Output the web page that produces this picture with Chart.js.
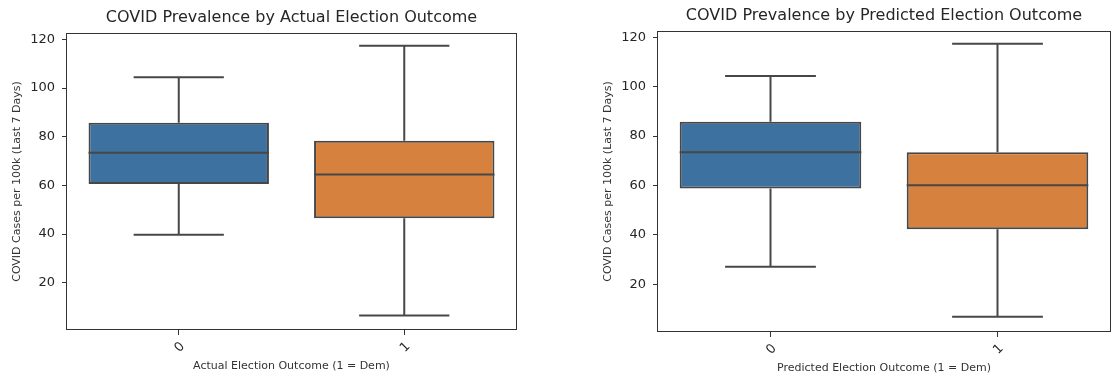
<!DOCTYPE html>
<html>
<head>
<meta charset="utf-8">
<script src="https://cdn.jsdelivr.net/npm/chart.js@4"></script>
<style>
  body { margin: 0; background: #fff; width: 1112px; height: 375px; overflow: hidden; position: relative; }
  .box { position: absolute; top: 0; height: 375px; }
</style>
</head>
<body>
<div class="box" style="left:0;width:540px"><canvas id="actualChart"></canvas></div>
<div class="box" style="left:591px;width:521px"><canvas id="predictedChart"></canvas></div>
<script>
const categories = ['0', '1'];
const yTicks = [20, 40, 60, 80, 100, 120];

// box stats per outcome: [group 0, group 1]
const actualMin = [39.7, 6.6];
const actualQ1 = [60.6, 46.5];
const actualMedian = [73.4, 64.5];
const actualQ3 = [85.7, 78.3];
const actualMax = [104.4, 117.4];

const predictedMin = [27.0, 6.8];
const predictedQ1 = [58.8, 42.2];
const predictedMedian = [73.5, 60.1];
const predictedQ3 = [85.8, 73.5];
const predictedMax = [104.4, 117.4];

const boxColors = ['#3d71a0', '#d6823e'];
const lineColor = '#474747';
const textColor = '#262626';

// whiskers, caps, medians and the axes frame
const boxPlotPlugin = {
    id: 'boxPlot',
    afterDatasetsDraw(chart) {
        const stats = chart.options.plugins.boxPlot;
        const y = chart.scales.y;
        const meta = chart.getDatasetMeta(0);
        const c = chart.ctx;
        c.save();
        c.strokeStyle = lineColor;
        c.lineWidth = 2;
        meta.data.forEach(function (bar, i) {
            const half = bar.width / 2;
            const cap = bar.width / 4;
            const yMin = y.getPixelForValue(stats.min[i]);
            const yQ1 = y.getPixelForValue(stats.q1[i]);
            const yMed = y.getPixelForValue(stats.median[i]);
            const yQ3 = y.getPixelForValue(stats.q3[i]);
            const yMax = y.getPixelForValue(stats.max[i]);
            c.beginPath();
            c.moveTo(bar.x, yQ1); c.lineTo(bar.x, yMin);
            c.moveTo(bar.x - cap, yMin); c.lineTo(bar.x + cap, yMin);
            c.moveTo(bar.x, yQ3); c.lineTo(bar.x, yMax);
            c.moveTo(bar.x - cap, yMax); c.lineTo(bar.x + cap, yMax);
            c.moveTo(bar.x - half, yMed); c.lineTo(bar.x + half, yMed);
            c.stroke();
        });
        const a = chart.chartArea;
        c.strokeStyle = '#333';
        c.lineWidth = 1;
        c.strokeRect(a.left + 0.5, a.top + 0.5, a.right - a.left - 1, a.bottom - a.top - 1);
        c.restore();
    }
};

function makeChart(id, title, xTitle, s, lay) {
    return new Chart(document.getElementById(id), {
        type: 'bar',
        data: {
            labels: categories,
            datasets: [{
                data: s.q1.map((v, i) => [v, s.q3[i]]),
                backgroundColor: boxColors,
                borderColor: lineColor,
                borderWidth: 2,
                borderSkipped: false,
                categoryPercentage: 0.8,
                barPercentage: 1.0
            }]
        },
        options: {
            responsive: true,
            maintainAspectRatio: false,
            animation: false,
            layout: { padding: { top: 0, right: lay.right, bottom: 0, left: 0 } },
            plugins: {
                legend: { display: false },
                tooltip: { enabled: false },
                title: {
                    display: true,
                    text: title,
                    fullSize: false,
                    color: textColor,
                    font: { family: 'DejaVu Sans', size: 16, weight: 'normal' },
                    padding: { top: lay.titleTop, bottom: lay.titleBottom }
                },
                boxPlot: s
            },
            scales: {
                x: {
                    afterFit: function (scale) { scale.height = lay.xHeight; },
                    grid: { display: true, drawOnChartArea: false, offset: false, tickLength: 5, tickColor: '#333' },
                    border: { display: false },
                    ticks: {
                        color: textColor,
                        font: { family: 'DejaVu Sans', size: 13 },
                        minRotation: 45,
                        maxRotation: 45,
                        padding: 4,
                        labelOffset: 4
                    },
                    title: {
                        display: true,
                        text: xTitle,
                        color: '#333',
                        font: { family: 'DejaVu Sans', size: 11 },
                        padding: { top: 0, bottom: lay.xTitleBottom }
                    }
                },
                y: {
                    min: 0.6,
                    max: 122.6,
                    afterFit: function (scale) { scale.width = 66; },
                    afterBuildTicks: function (scale) {
                        scale.ticks = yTicks.map(v => ({ value: v }));
                    },
                    grid: { display: true, drawOnChartArea: false, tickLength: 4, tickColor: '#333' },
                    border: { display: false },
                    ticks: {
                        color: textColor,
                        font: { family: 'DejaVu Sans', size: 13 },
                        padding: 7
                    },
                    title: {
                        display: true,
                        text: 'COVID Cases per 100k (Last 7 Days)',
                        color: '#333',
                        font: { family: 'DejaVu Sans', size: 11 },
                        padding: { top: 10.4, bottom: 0 }
                    }
                }
            }
        },
        plugins: [boxPlotPlugin]
    });
}

makeChart('actualChart', 'COVID Prevalence by Actual Election Outcome', 'Actual Election Outcome (1 = Dem)',
    { min: actualMin, q1: actualQ1, median: actualMedian, q3: actualQ3, max: actualMax },
    { right: 23, titleTop: 8.5, titleBottom: 5.3, xHeight: 45, xTitleBottom: 2.4 });

makeChart('predictedChart', 'COVID Prevalence by Predicted Election Outcome', 'Predicted Election Outcome (1 = Dem)',
    { min: predictedMin, q1: predictedQ1, median: predictedMedian, q3: predictedQ3, max: predictedMax },
    { right: 1, titleTop: 6.4, titleBottom: 5.4, xHeight: 43, xTitleBottom: 0.7 });
</script>
</body>
</html>
